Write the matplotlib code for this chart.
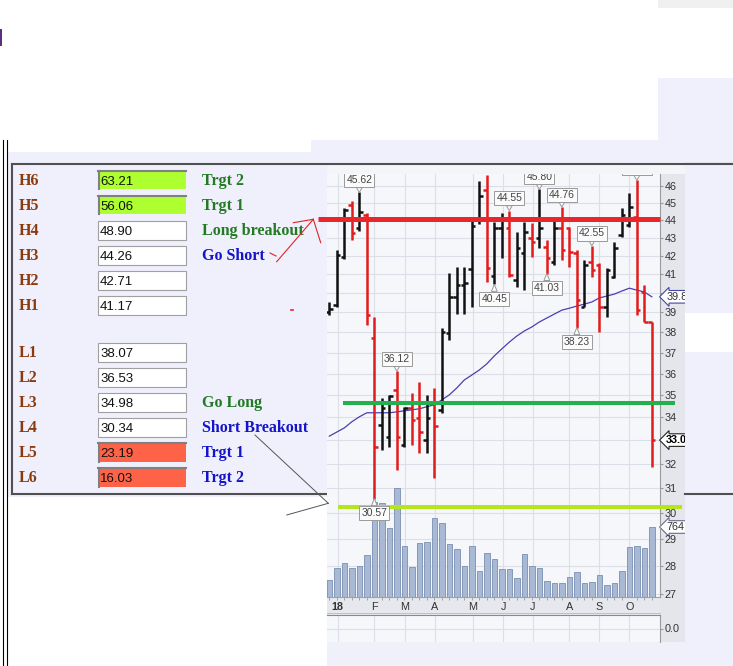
import matplotlib
matplotlib.use("Agg")
import matplotlib.pyplot as plt
from matplotlib.patches import Rectangle
from matplotlib.lines import Line2D
from matplotlib.transforms import blended_transform_factory

W, H = 733, 666

# pivot table on the left
level_names = ['H6', 'H5', 'H4', 'H3', 'H2', 'H1', 'L1', 'L2', 'L3', 'L4', 'L5', 'L6']
level_values = ['63.21', '56.06', '48.90', '44.26', '42.71', '41.17',
                '38.07', '36.53', '34.98', '30.34', '23.19', '16.03']
level_notes = ['Trgt 2', 'Trgt 1', 'Long breakout', 'Go Short', '', '',
               '', '', 'Go Long', 'Short Breakout', 'Trgt 1', 'Trgt 2']
note_kind = ['g', 'g', 'g', 'b', '', '', '', '', 'g', 'b', 'b', 'b']
box_fill = ['#adff2f', '#adff2f', 'white', 'white', 'white', 'white',
            'white', 'white', 'white', 'white', '#ff6347', '#ff6347']

# weekly OHLC bars
opens = [39.00, 39.37, 41.90, 44.90, 43.55, 44.29, 37.70, 33.66, 33.15, 35.24,
         32.79, 34.42, 33.96, 33.00, 34.65, 34.33, 37.97, 39.81, 40.41, 41.26,
         44.00, 45.76, 40.90, 43.52, 43.52, 40.68, 42.12, 42.96, 42.96, 42.50,
         41.67, 43.52, 43.52, 42.12, 39.28, 41.67, 41.49, 39.28, 40.86, 43.15,
         43.71, 44.19, 40.06, 38.52]
highs = [39.54, 42.31, 44.68, 45.10, 45.62, 44.43, 38.77, 34.87, 35.01, 36.12,
         34.48, 35.10, 35.62, 35.01, 35.32, 38.21, 41.04, 41.36, 41.36, 44.19,
         46.30, 46.67, 43.89, 44.39, 44.55, 43.33, 43.90, 43.81, 45.80, 42.86,
         44.00, 44.76, 43.61, 42.31, 41.76, 42.55, 41.58, 41.31, 42.77, 44.69,
         45.57, 46.35, 40.41, 38.52]
lows = [38.86, 39.28, 41.80, 42.86, 43.40, 38.36, 30.57, 32.57, 32.72, 31.73,
        32.72, 32.79, 32.43, 32.43, 31.39, 34.19, 37.61, 38.91, 38.91, 39.28,
        43.77, 40.57, 40.45, 41.86, 40.86, 40.32, 40.15, 41.94, 42.40, 41.03,
        41.49, 41.76, 41.40, 38.23, 39.28, 40.86, 38.03, 38.77, 40.77, 43.05,
        43.61, 38.86, 38.52, 31.86]
closes = [39.15, 42.03, 44.58, 43.26, 44.48, 38.86, 32.70, 34.42, 34.96, 33.15,
          34.40, 33.88, 33.37, 33.96, 33.62, 38.00, 39.81, 40.41, 40.50, 43.66,
          45.40, 41.33, 43.54, 44.00, 40.95, 42.40, 43.33, 42.77, 43.52, 41.86,
          43.52, 42.31, 42.22, 39.63, 41.49, 41.22, 39.28, 41.22, 42.40, 44.29,
          44.77, 39.11, 38.50, 33.00]
volume = [186, 317, 371, 317, 338, 458, 1037, 1026, 753, 1190, 557, 327, 589,
          600, 862, 808, 578, 524, 338, 557, 284, 480, 415, 306, 306, 207, 469,
          338, 317, 175, 153, 153, 218, 273, 153, 164, 240, 131, 153, 284, 546,
          557, 535, 764]
moving_avg = [33.17, 33.35, 33.53, 33.80, 34.02, 34.20, 34.20, 34.20, 34.20,
              34.24, 34.29, 34.33, 34.38, 34.47, 34.56, 34.78, 35.01, 35.33,
              35.70, 35.93, 36.17, 36.46, 36.84, 37.18, 37.51, 37.81, 38.06,
              38.26, 38.51, 38.71, 38.91, 39.11, 39.21, 39.32, 39.42, 39.53,
              39.74, 39.84, 39.94, 40.10, 40.25, 40.15, 40.05, 39.80]
month_pos = [1.12, 6.0, 10.1, 14.1, 19.1, 23.2, 27.1, 32.0, 36.0, 40.0]
month_labels = ['18', 'F', 'M', 'A', 'M', 'J', 'J', 'A', 'S', 'O']
price_ticks = list(range(27, 47))
hidden_ticks = [33, 40]   # covered by the value tags on the axis
# (bar index, label, above?)
callouts = [(4, '45.62', True), (6, '30.57', False), (9, '36.12', True),
            (22, '40.45', False), (24, '44.55', True), (28, '45.80', True),
            (29, '41.03', False), (31, '44.76', True), (33, '38.23', False),
            (35, '42.55', True), (41, '46.35', True)]
# hand drawn level lines: (price, start bar, end bar, colour, width)
level_lines = [(44.07, -1.5, 44.09, '#e8262b', 3.6),
               (34.63, 1.8, 46.1, '#22b14c', 2.9),
               (30.22, 1.1, 47.0, '#b5e61d', 2.9)]

LAV = '#f0f0fd'
BROWN = '#8b3a0e'
GREEN = '#237a23'
BLUE = '#1414c8'
GRID = '#dcdfe7'
PLOT_BG = '#f6f7fb'

fig = plt.figure(figsize=(W / 100, H / 100), dpi=100)
fig.patch.set_facecolor('white')


def rect(x0, y0, x1, y1, color, z):
    fig.add_artist(Rectangle((x0 / W, 1 - y1 / H), (x1 - x0) / W, (y1 - y0) / H,
                             transform=fig.transFigure, fc=color, ec='none', zorder=z))


def line(xs, ys, color, lw, z):
    fig.add_artist(Line2D([x / W for x in xs], [1 - y / H for y in ys],
                          transform=fig.transFigure, color=color, lw=lw, zorder=z))


def ftext(x, y, s, **kw):
    fig.text(x / W, 1 - y / H, s, **kw)


# page background pieces
rect(311, 140, 658, 152, LAV, -10)
rect(8, 152, 658, 497, LAV, -10)
rect(658, 78, 733, 666, LAV, -10)
rect(658, 0, 733, 8, '#f0f0f0', -10)
line([0.5, 0.5], [30, 45], '#5a2a7a', 1.4, -9)
line([3.3, 3.3], [140, 666], 'black', 0.8, -9)
line([6.7, 6.7], [140, 666], 'black', 0.8, -9)

# table frame
line([12, 12], [164, 494], '#505050', 1.5, -9)
line([12, 733], [494, 494], '#505050', 1.5, -9)

# chart picture background
rect(327, 165, 685, 666, '#f4f5f9', -8)
rect(327, 642, 685, 666, '#f0f0fa', -7)
rect(660, 174, 685, 642, '#e4e6eb', -7)
rect(327, 597, 660, 615, '#e7e8ed', -7)
line([327, 660], [613, 613], '#b8bac4', 0.6, -6)
line([12, 733], [164, 164], '#505050', 1.5, -6)

# table rows
for k in range(12):
    yc = 180 + 25 * k + (22 if k >= 6 else 0)
    ftext(19, yc + 5.3, level_names[k], ha='left', va='baseline',
          family='Liberation Serif', weight='bold', size=11.5, color=BROWN)
    if box_fill[k] == 'white':
        fig.add_artist(Rectangle((98 / W, 1 - (yc + 9.5) / H), 88 / W, 19 / H,
                                 transform=fig.transFigure, fc='white',
                                 ec='#a0a0a0', lw=0.8, zorder=1))
    else:
        rect(98, yc - 9.5, 186, yc + 9.5, box_fill[k], 1)
        line([98, 186], [yc - 8.7, yc - 8.7], '#808080', 1.5, 2)
        line([98.8, 98.8], [yc - 9.5, yc + 9.5], '#808080', 1.5, 2)
    ftext(100, yc + 5, level_values[k], ha='left', va='baseline',
          family='Liberation Sans', size=9.5, color='#111111')
    if level_notes[k]:
        ftext(202, yc + 5.3, level_notes[k], ha='left', va='baseline',
              family='Liberation Serif', weight='bold', size=11.5,
              color=GREEN if note_kind[k] == 'g' else BLUE)

# volume axes (bottom layer) and price axes on top
ax_v = fig.add_axes([327 / W, 1 - 597 / H, 333 / W, 423 / H])
ax_v.set_facecolor(PLOT_BG)
x = list(range(len(volume)))
ax_v.bar(x, volume, width=0.72, color='#a7b9d4', edgecolor='#7a8fb2', lw=0.6, zorder=2)
ax_v.set_xlim(-0.31, 44.09)
ax_v.set_ylim(0, 4617)
ax_v.set_yticks([])
ax_v.set_xticks(month_pos, month_labels)
ax_v.set_xticks(x, minor=True)
ax_v.grid(axis='x', color=GRID, lw=0.8)
ax_v.set_axisbelow(True)
ax_v.tick_params(axis='x', which='major', length=0, pad=3.5, labelsize=7.8,
                 labelcolor='#333333')
ax_v.tick_params(axis='x', which='minor', length=2, color='#999999', width=0.6)
for lab in ax_v.get_xticklabels():
    lab.set_family('Liberation Sans')
ax_v.get_xticklabels()[0].set_fontweight('bold')
for s in ax_v.spines.values():
    s.set_visible(False)
ax_v.spines['bottom'].set_visible(True)
ax_v.spines['bottom'].set_color('#a0a0a0')

ax = ax_v.twinx()
ax.set_yscale('log')
ax.set_ylim(26.88, 46.73)
ax.set_yticks(price_ticks, ['' if p in hidden_ticks else str(p) for p in price_ticks])
ax.yaxis.set_minor_locator(matplotlib.ticker.NullLocator())
ax.tick_params(axis='y', length=2, color='#999999', pad=1.5, labelsize=7.8,
               labelcolor='#333333')
for lab in ax.get_yticklabels():
    lab.set_family('Liberation Sans')
for s in ['left', 'top', 'bottom']:
    ax.spines[s].set_visible(False)
ax.spines['right'].set_color('#9a9a9a')

# horizontal price grid drawn under the volume bars
trans_grid = blended_transform_factory(ax_v.transAxes, ax.transData)
for p in price_ticks:
    ax_v.plot([0, 1], [p, p], transform=trans_grid, color=GRID, lw=0.8, zorder=0.5)
ax_v.set_ylim(0, 4617)

ax.plot(x, moving_avg, color='#4b3fb0', lw=0.9, zorder=2)
cols = ['#111111' if c >= o else '#e41b1b' for o, c in zip(opens, closes)]
ax.vlines(x, lows, highs, colors=cols, lw=1.8, zorder=3)
ax.hlines(opens, [i - 0.45 for i in x], x, colors=cols, lw=1.8, zorder=3)
ax.hlines(closes, x, [i + 0.45 for i in x], colors=cols, lw=1.8, zorder=3)

for lvl, x0, x1, c, lw in level_lines:
    ax.hlines(lvl, x0, x1, colors=c, lw=lw, zorder=5, clip_on=False)

for i, txt, above in callouts:
    yv = highs[i] if above else lows[i]
    ax.annotate(txt, xy=(i, yv), xytext=(0, 8.8 if above else -10.4),
                textcoords='offset points', ha='center', va='center',
                fontsize=7.5, family='Liberation Sans', color='#444444',
                bbox=dict(boxstyle='square,pad=0.2', fc='#fbfbfc', ec='#9a9a9a', lw=0.7),
                arrowprops=dict(arrowstyle='wedge,tail_width=0.55', fc='#fbfbfc',
                                ec='#9a9a9a', lw=0.7, shrinkA=0, shrinkB=0),
                zorder=7, annotation_clip=False, clip_on=True)

# value tags on the right axis
trans_r = blended_transform_factory(ax.transAxes, ax.transData)
ax.annotate('39.8', xy=(1, moving_avg[-1]), xycoords=trans_r, xytext=(4.5, 0),
            textcoords='offset points', ha='left', va='center', fontsize=7.8,
            family='Liberation Sans', color='#333333', annotation_clip=False,
            bbox=dict(boxstyle='larrow,pad=0.12', fc='white', ec='#4646a8', lw=0.8))
ax.annotate('33.0', xy=(1, closes[-1]), xycoords=trans_r, xytext=(4.5, 0),
            textcoords='offset points', ha='left', va='center', fontsize=7.8,
            family='Liberation Sans', weight='bold', color='black',
            annotation_clip=False,
            bbox=dict(boxstyle='larrow,pad=0.12', fc='white', ec='#222222', lw=0.8))
trans_v = blended_transform_factory(ax_v.transAxes, ax_v.transData)
ax_v.annotate('764', xy=(1, volume[-1]), xycoords=trans_v, xytext=(4.5, 0),
              textcoords='offset points', ha='left', va='center', fontsize=7.8,
              family='Liberation Sans', color='#333333', annotation_clip=False,
              bbox=dict(boxstyle='larrow,pad=0.12', fc='white', ec='#6a6a8a', lw=0.8))

# lower indicator panel
ax_low = fig.add_axes([327 / W, 1 - 642 / H, 333 / W, 27 / H])
ax_low.set_facecolor(PLOT_BG)
ax_low.set_xlim(-0.31, 44.09)
ax_low.set_ylim(-1, 1)
ax_low.set_xticks(month_pos, [])
ax_low.set_yticks([0], ['0.0'])
ax_low.yaxis.tick_right()
ax_low.grid(color=GRID, lw=0.8)
ax_low.tick_params(axis='x', length=0)
ax_low.tick_params(axis='y', length=2, color='#999999', pad=1.5, labelsize=7.8,
                   labelcolor='#333333')
for lab in ax_low.get_yticklabels():
    lab.set_family('Liberation Sans')
for s in ['left', 'bottom']:
    ax_low.spines[s].set_visible(False)
ax_low.spines['top'].set_color('#8a8a8a')
ax_low.spines['right'].set_color('#9a9a9a')

# right side of the page covers the clipped edge of the chart picture
rect(685, 165, 733, 313, LAV, 5)
rect(685, 313, 733, 352, 'white', 5)
rect(685, 352, 733, 666, LAV, 5)
line([685, 733], [494, 494], '#505050', 1.5, 6)
line([685, 733], [164, 164], '#505050', 1.5, 6)

# hand drawn pointers
red = '#e02424'
line([276.7, 313.3], [261.7, 219.3], red, 0.8, 6)
line([293.3, 313.3], [222.7, 219.3], red, 0.8, 6)
line([313.3, 320.7], [219.3, 242.7], red, 0.8, 6)
line([270, 276], [253, 256], red, 0.8, 6)
line([291, 292.5], [310, 310], red, 1.2, 6)
line([255, 328.3], [435, 503.3], '#555555', 0.7, 6)
line([286.7, 328.3], [515, 503.3], '#555555', 0.7, 6)

fig.savefig('out.png', dpi=100)
